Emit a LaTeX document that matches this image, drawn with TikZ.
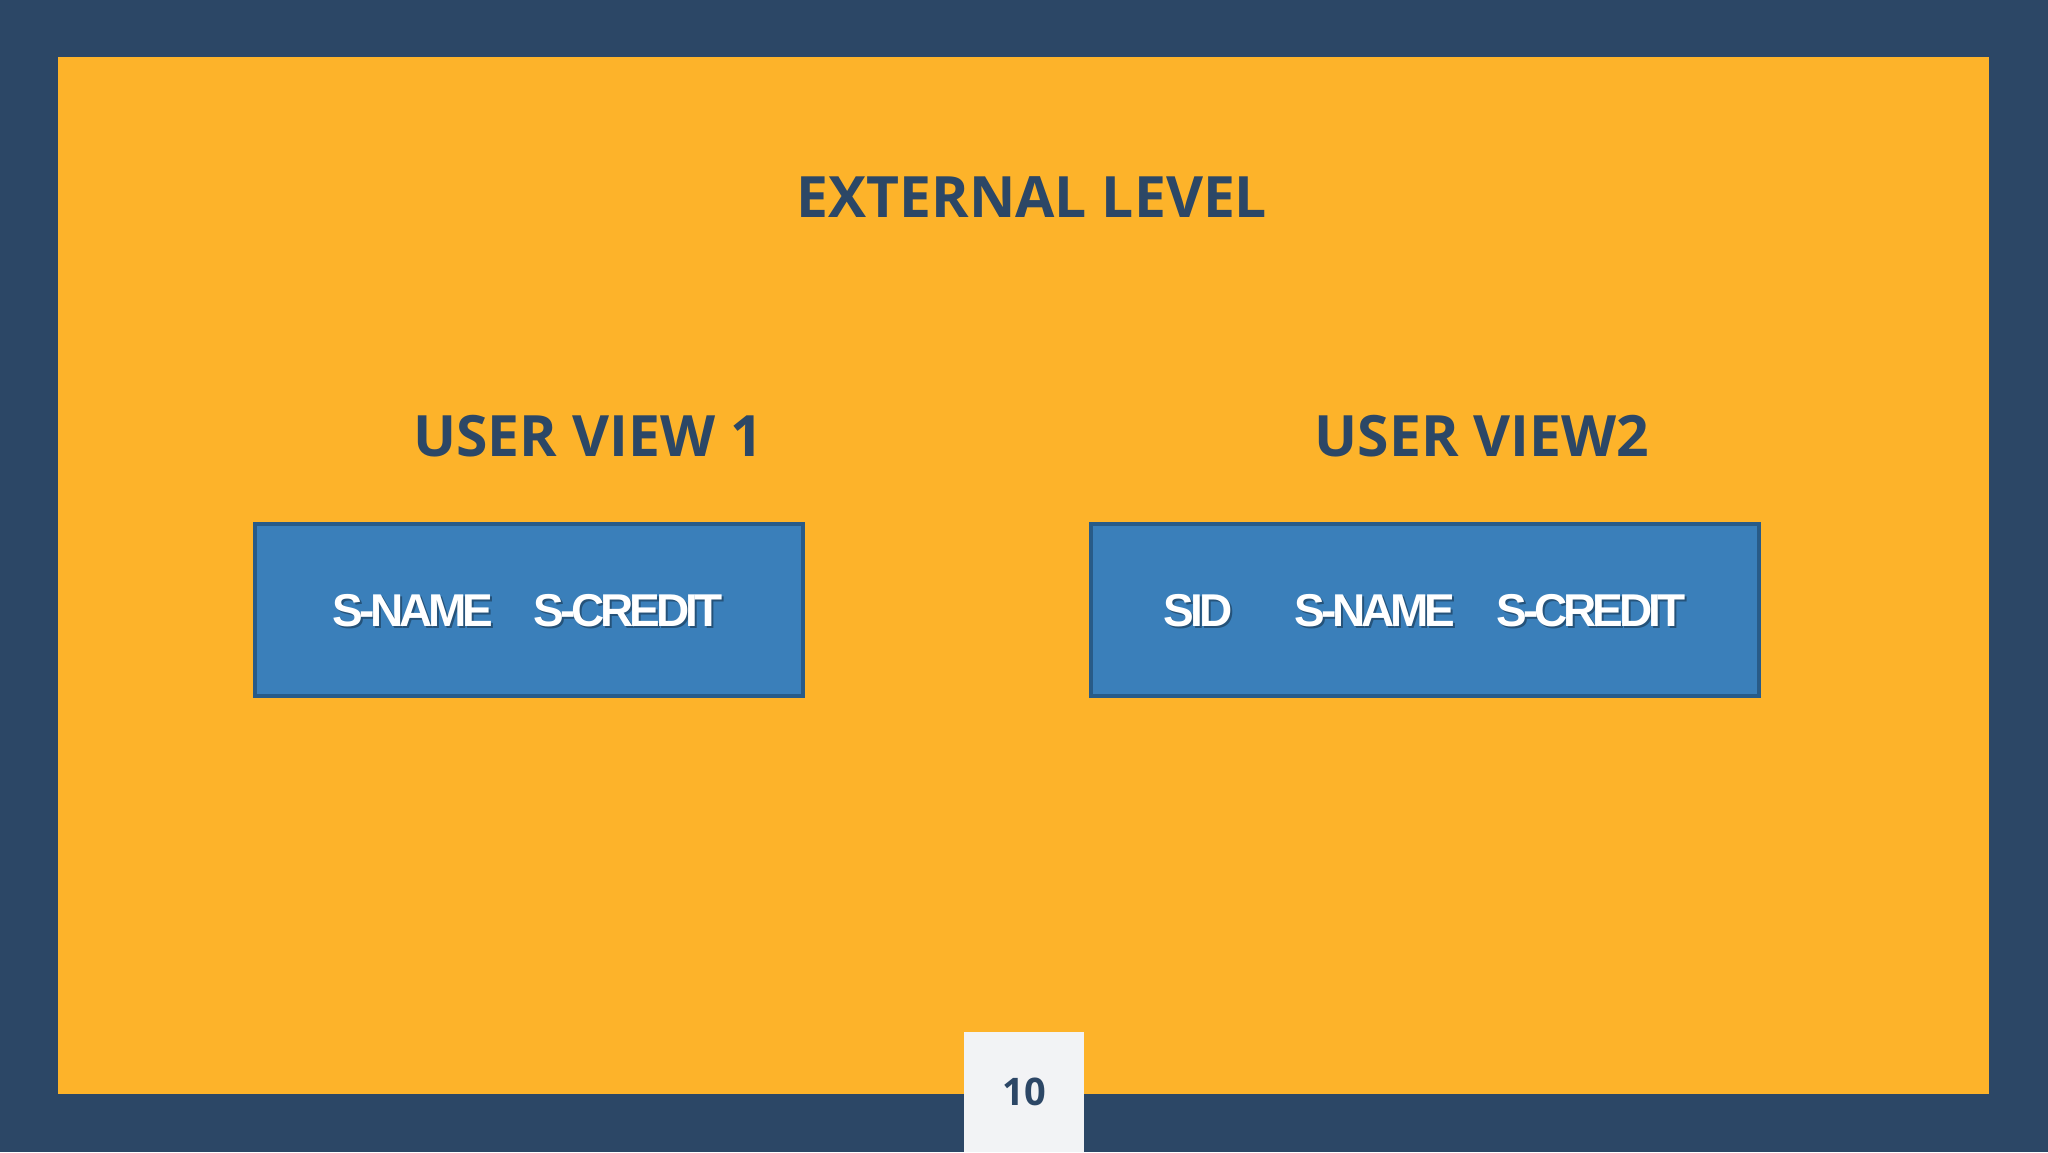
\documentclass[tikz,border=0pt]{standalone}
\usepackage{fontspec}
\setmainfont{Open Sans}
\newfontfamily\boxfont{Liberation Sans}[LetterSpace=-9]
\definecolor{navy}{HTML}{2C4766}
\definecolor{amber}{HTML}{FDB32A}
\definecolor{boxblue}{HTML}{3A7FBA}
\definecolor{boxedge}{HTML}{285B88}
\definecolor{paper}{HTML}{F2F3F5}
\tikzset{
  heading/.style={font=\fontsize{57}{66}\selectfont\bfseries, text=navy, inner sep=0pt},
  fieldbox/.style={draw=boxedge, line width=4.5pt, fill=boxblue, inner sep=0pt},
  fieldtext/.style={font=\boxfont\fontsize{46}{52}\selectfont\bfseries, text=white, inner sep=0pt},
  fieldshadow/.style={font=\boxfont\fontsize{46}{52}\selectfont\bfseries, text=black, opacity=0.35, inner sep=0pt}
}
\begin{document}
\begin{tikzpicture}[x=1pt,y=-1pt]
\useasboundingbox (0,0) rectangle (2048,1152);
\fill[navy] (0,0) rectangle (2048,1152);
\fill[amber] (58,57) rectangle (1989,1094);
\node[heading] (title) at (1032,197) {EXTERNAL LEVEL};
\node[heading] (uv1) at (588,436) {USER VIEW 1};
\node[heading] (uv2) at (1482,436) {USER VIEW2};
\node[fieldbox, minimum width=548pt, minimum height=172pt] (box1) at (529,610) {};
\node[fieldbox, minimum width=668pt, minimum height=172pt] (box2) at (1425,610) {};
% shadows
\node[fieldshadow] at (415,613) {S-NAME};
\node[fieldshadow] at (630,613) {S-CREDIT};
\node[fieldshadow] at (1200,613) {SID};
\node[fieldshadow] at (1377,613) {S-NAME};
\node[fieldshadow] at (1593,613) {S-CREDIT};
% texts
\node[fieldtext] (f1) at (413,611) {S-NAME};
\node[fieldtext] (f2) at (628,611) {S-CREDIT};
\node[fieldtext] (f3) at (1198,611) {SID};
\node[fieldtext] (f4) at (1375,611) {S-NAME};
\node[fieldtext] (f5) at (1591,611) {S-CREDIT};
\fill[paper] (964,1032) rectangle (1084,1152);
\node[font=\fontsize{38}{44}\selectfont\bfseries, text=navy, inner sep=0pt] (page) at (1024,1092) {10};
\end{tikzpicture}
\end{document}
